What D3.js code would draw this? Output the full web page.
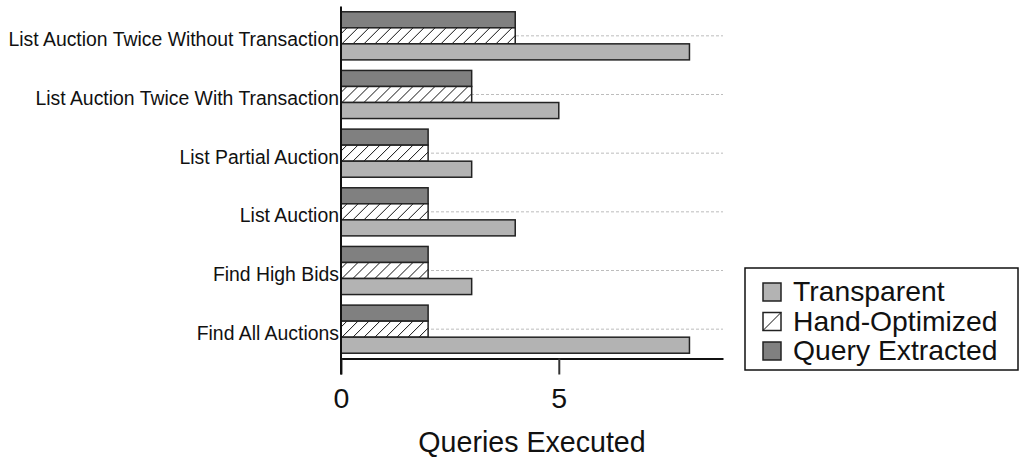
<!DOCTYPE html>
<html>
<head>
<meta charset="utf-8">
<script src="https://cdn.jsdelivr.net/npm/d3@7"></script>
<style>
  html, body { margin: 0; padding: 0; background: #fff; }
  svg { display: block; font-family: "Liberation Sans", Arial, Helvetica, sans-serif; }
</style>
</head>
<body>
<svg id="chart" width="1026" height="459"></svg>
<script>
// Benchmarks, listed top to bottom
const categories = [
  "List Auction Twice Without Transaction",
  "List Auction Twice With Transaction",
  "List Partial Auction",
  "List Auction",
  "Find High Bids",
  "Find All Auctions"
];
// Number of queries executed by each approach
const transparent    = [8, 5, 3, 4, 3, 8];
const handOptimized  = [4, 3, 2, 2, 2, 2];
const queryExtracted = [4, 3, 2, 2, 2, 2];

const seriesNames = ["Query Extracted", "Hand-Optimized", "Transparent"]; // order within a group, top to bottom
const legendNames = ["Transparent", "Hand-Optimized", "Query Extracted"];
const xTicks = [0, 5];
const xTitle = "Queries Executed";

const seriesValues = {
  "Transparent": transparent,
  "Hand-Optimized": handOptimized,
  "Query Extracted": queryExtracted
};

const svg = d3.select("#chart");
const defs = svg.append("defs");

// Diagonal hatching for the hand-optimized bars
const hatch = defs.append("pattern")
  .attr("id", "hatch")
  .attr("patternUnits", "userSpaceOnUse")
  .attr("width", 11).attr("height", 11);
hatch.append("rect").attr("width", 11).attr("height", 11).attr("fill", "#fff");
hatch.append("path")
  .attr("d", "M-1,1 L1,-1 M0,11 L11,0 M10,12 L12,10")
  .attr("stroke", "#111").attr("stroke-width", 1);

const fills = {
  "Transparent": "#b3b3b3",
  "Hand-Optimized": "url(#hatch)",
  "Query Extracted": "#808080"
};

const plotLeft = 341, plotRight = 723, plotTop = 6.5, plotBottom = 358.5;

const x = d3.scaleLinear().domain([0, 8.77]).range([plotLeft, plotRight]);
const y = d3.scaleBand().domain(categories).range([plotTop, plotBottom])
  .paddingInner(0.18).paddingOuter(0.09);
const ySub = d3.scaleBand().domain(seriesNames).range([0, y.bandwidth()]);

// Dashed guide lines through the middle of each group
svg.append("g").selectAll("line")
  .data(categories)
  .join("line")
  .attr("x1", plotLeft).attr("x2", plotRight)
  .attr("y1", d => y(d) + y.bandwidth() / 2)
  .attr("y2", d => y(d) + y.bandwidth() / 2)
  .attr("stroke", "#bdbdbd")
  .attr("stroke-width", 1)
  .attr("stroke-dasharray", "3,2");

// Bars
const groups = svg.append("g").selectAll("g")
  .data(categories)
  .join("g")
  .attr("transform", d => `translate(0,${y(d)})`);

groups.selectAll("rect")
  .data((d, i) => seriesNames.map(s => ({ s, v: seriesValues[s][i] })))
  .join("rect")
  .attr("x", x(0))
  .attr("y", d => ySub(d.s))
  .attr("width", d => x(d.v) - x(0))
  .attr("height", ySub.bandwidth())
  .attr("fill", d => fills[d.s])
  .attr("stroke", "#222")
  .attr("stroke-width", 1.5);

// Category labels
svg.append("g").selectAll("text")
  .data(categories)
  .join("text")
  .attr("x", plotLeft - 2)
  .attr("y", d => y(d) + y.bandwidth() / 2 + 10.5)
  .attr("text-anchor", "end")
  .attr("font-size", 19.4)
  .attr("fill", "#111")
  .text(d => d);

// X axis
const xAxis = d3.axisBottom(x).tickValues(xTicks).tickSize(16).tickPadding(13).tickSizeOuter(0);
const gx = svg.append("g")
  .attr("transform", `translate(0,${plotBottom})`)
  .call(xAxis);
gx.select(".domain").attr("stroke", "#111").attr("stroke-width", 2);
gx.selectAll(".tick line").attr("stroke", "#333").attr("stroke-width", 2);
gx.selectAll(".tick text").attr("font-size", 28.5).attr("fill", "#111")
  .attr("font-family", "Liberation Sans, Arial, sans-serif");

// Y axis line
svg.append("line")
  .attr("x1", plotLeft).attr("x2", plotLeft)
  .attr("y1", plotTop).attr("y2", plotBottom + 16)
  .attr("stroke", "#111").attr("stroke-width", 2);

// Axis title
svg.append("text")
  .attr("x", (plotLeft + plotRight) / 2)
  .attr("y", 452)
  .attr("text-anchor", "middle")
  .attr("font-size", 28.6)
  .attr("fill", "#111")
  .text(xTitle);

// Legend
const legend = svg.append("g").attr("transform", "translate(745,268)");
legend.append("rect")
  .attr("width", 273).attr("height", 102)
  .attr("fill", "#fff").attr("stroke", "#111").attr("stroke-width", 1.5);
const items = legend.selectAll("g.item")
  .data(legendNames)
  .join("g")
  .attr("class", "item")
  .attr("transform", (d, i) => `translate(18,${15 + i * 29.5})`);
items.append("rect")
  .attr("width", 18).attr("height", 18)
  .attr("fill", d => d === "Hand-Optimized" ? "#fff" : fills[d])
  .attr("stroke", "#222").attr("stroke-width", 1.5);
items.filter(d => d === "Hand-Optimized").append("line")
  .attr("x1", 0).attr("y1", 18).attr("x2", 18).attr("y2", 0)
  .attr("stroke", "#111").attr("stroke-width", 1);
items.append("text")
  .attr("x", 30).attr("y", 18)
  .attr("font-size", 28.3)
  .attr("fill", "#111")
  .text(d => d);
</script>
</body>
</html>
